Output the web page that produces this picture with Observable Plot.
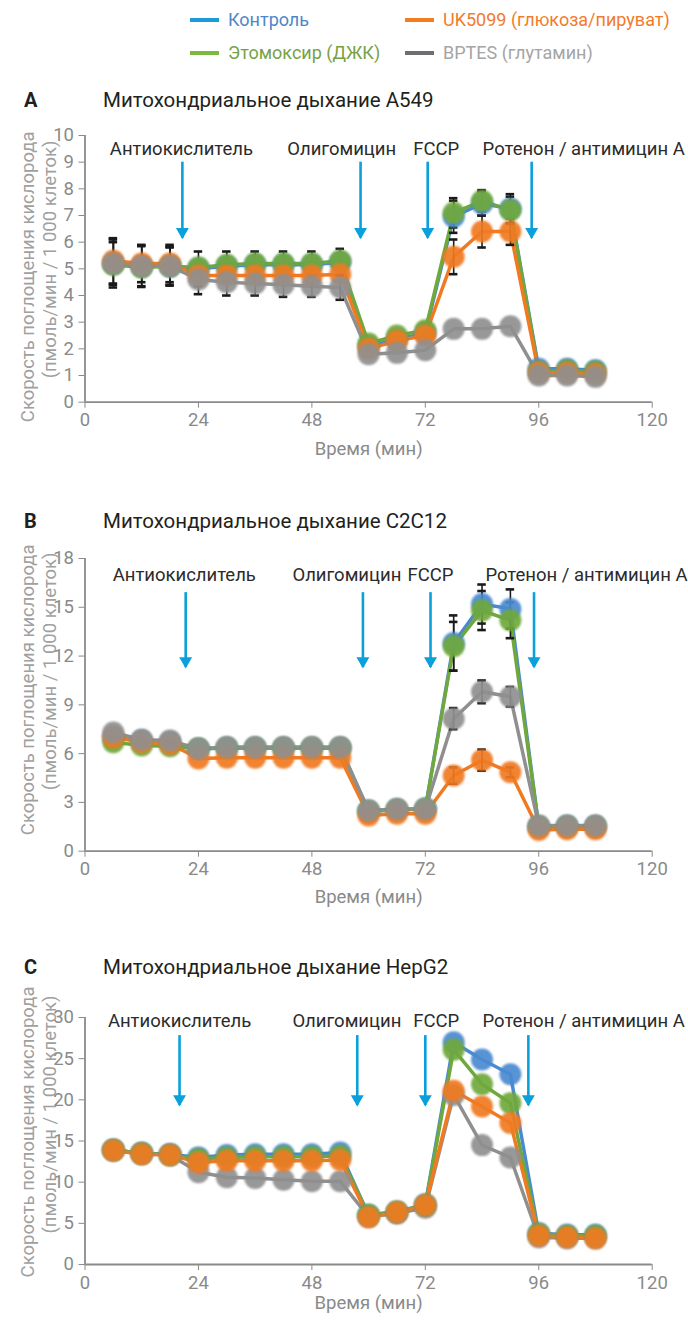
<!DOCTYPE html>
<html><head><meta charset="utf-8">
<script src="https://cdn.jsdelivr.net/npm/d3@7"></script>
<script src="https://cdn.jsdelivr.net/npm/@observablehq/plot@0.6"></script>
<style>
body{margin:0;background:#fff;font-family:Roboto,sans-serif;}
#root{position:relative;width:688px;height:1321px;overflow:hidden;background:#fff;}
.abs{position:absolute;white-space:nowrap;line-height:1;}
</style></head><body><div id="root"></div>
<script>
// ---------- shared data ----------
const times = [6,12,18,24,30,36,42,48,54,60,66,72,78,84,90,96,102,108];
const xTicks = [0,24,48,72,96,120];
const seriesNames = ["Контроль","Этомоксир (ДЖК)","UK5099 (глюкоза/пируват)","BPTES (глутамин)"];
const seriesColors = ["#4a8ad0","#6fa83c","#f07a22","#8f8f8f"];
const legendLineColors = ["#1b9cd9","#7bb940","#f47c21","#6d6f72"];
const legendTextColors = ["#4f87c7","#76a246","#f27c2c","#a5a5a5"];
const injectionNames = ["Антиокислитель","Олигомицин","FCCP","Ротенон / антимицин A"];
const yLabelLines = ["Скорость поглощения кислорода","(пмоль/мин / 1 000 клеток)"];
const xLabel = "Время (мин)";
const panelLetters = ["A","B","C"];
const panelTitles = ["Митохондриальное дыхание A549","Митохондриальное дыхание C2C12","Митохондриальное дыхание HepG2"];

// ---------- A549 ----------
const a549Ctrl  = [5.2,5.1,5.1,5.0,5.1,5.15,5.15,5.15,5.25,2.1,2.35,2.6,6.95,7.45,7.25,1.25,1.25,1.2];
const a549Eto   = [5.15,5.05,5.1,5.05,5.15,5.2,5.2,5.2,5.3,2.2,2.5,2.7,7.1,7.55,7.2,1.15,1.2,1.15];
const a549Uk    = [5.3,5.2,5.2,4.75,4.75,4.75,4.75,4.75,4.8,2.0,2.3,2.5,5.45,6.4,6.4,1.1,1.1,1.05];
const a549Bptes = [5.2,5.1,5.1,4.6,4.5,4.45,4.4,4.35,4.3,1.8,1.85,1.95,2.75,2.75,2.85,1.0,1.0,0.95];
const a549CtrlErr  = [0.9,0.78,0.73,0.65,0.55,0.5,0.5,0.5,0.5,0,0,0,0.6,0.45,0.55,0,0,0];
const a549EtoErr   = [0,0,0,0,0,0,0,0,0,0,0,0,0.55,0.4,0.5,0,0,0];
const a549UkErr    = [0.85,0.7,0.7,0,0,0,0,0,0,0,0,0,0.65,0.6,0.5,0,0,0];
const a549BptesErr = [0.8,0.75,0.7,0.55,0.5,0.45,0.45,0.4,0.46,0,0,0,0,0,0,0,0,0];
const a549YTicks = [0,1,2,3,4,5,6,7,8,9,10];
const a549ArrowTimes = [20.6,58.3,72.5,94.5];
const a549LabelTimes = [20.4,54.3,74.3,105.5];

// ---------- C2C12 ----------
const c2c12Ctrl  = [7.0,6.8,6.7,6.3,6.35,6.35,6.35,6.35,6.35,2.45,2.55,2.6,12.8,15.2,14.9,1.5,1.55,1.55];
const c2c12Eto   = [6.7,6.5,6.45,6.3,6.35,6.35,6.35,6.35,6.35,2.45,2.55,2.6,12.6,14.8,14.2,1.5,1.5,1.5];
const c2c12Uk    = [7.0,6.7,6.6,5.7,5.75,5.75,5.75,5.75,5.75,2.2,2.3,2.3,4.65,5.6,4.85,1.3,1.35,1.35];
const c2c12Bptes = [7.3,6.85,6.8,6.3,6.4,6.4,6.4,6.4,6.4,2.5,2.6,2.6,8.15,9.8,9.5,1.58,1.58,1.58];
const c2c12CtrlErr  = [0,0,0,0,0,0,0,0,0,0,0,0,1.7,1.2,1.2,0,0,0];
const c2c12EtoErr   = [0,0,0,0,0,0,0,0,0,0,0,0,1.5,1.2,1.1,0,0,0];
const c2c12UkErr    = [0,0,0,0,0,0,0,0,0,0,0,0,0.5,0.65,0.3,0,0,0];
const c2c12BptesErr = [0,0,0,0,0,0,0,0,0,0,0,0,0.65,0.7,0.6,0,0,0];
const c2c12YTicks = [0,3,6,9,12,15,18];
const c2c12ArrowTimes = [21.3,58.8,73.1,95.0];
const c2c12LabelTimes = [21.0,55.4,73.1,106.1];

// ---------- HepG2 ----------
const hepg2Ctrl  = [13.9,13.5,13.4,13.0,13.3,13.4,13.4,13.4,13.6,6.0,6.4,7.3,27.0,24.9,23.1,3.8,3.6,3.6];
const hepg2Eto   = [13.9,13.5,13.3,12.8,13.0,13.1,13.1,13.1,13.2,6.0,6.4,7.2,26.1,21.9,19.6,3.7,3.5,3.5];
const hepg2Uk    = [13.85,13.4,13.3,12.4,12.6,12.6,12.6,12.6,12.7,5.75,6.35,7.2,21.1,19.2,17.2,3.5,3.3,3.2];
const hepg2Bptes = [13.9,13.5,13.3,11.2,10.6,10.5,10.3,10.1,10.1,5.8,6.2,6.9,20.6,14.5,13.0,3.3,3.2,3.2];
const hepg2CtrlErr  = [0,0,0,0,0,0,0,0,0,0,0,0,0,0,0,0,0,0];
const hepg2EtoErr   = [0,0,0,0,0,0,0,0,0,0,0,0,0,0,0,0,0,0];
const hepg2UkErr    = [0,0,0,0,0,0,0,0,0,0,0,0,0,0,0,0,0,0];
const hepg2BptesErr = [0,0,0,0,0,0,0,0,0,0,0,0,0,0,0,0,0,0];
const hepg2YTicks = [0,5,10,15,20,25,30];
const hepg2ArrowTimes = [20.0,57.6,72.0,93.8];
const hepg2LabelTimes = [20.0,55.4,74.3,105.5];

// ---------- layout / style ----------
const AXIS = "#8a8a8a";
const ARROW = "#0aa0dc";
const FS = 18.5;
const root = document.getElementById("root");
function addText(txt, left, top, size, color, weight) {
  const d = document.createElement("div");
  d.className = "abs";
  d.textContent = txt;
  Object.assign(d.style, {left: left+"px", top: top+"px", fontSize: size+"px", color, fontWeight: weight||400});
  root.appendChild(d);
  return d;
}
function addLine(left, top, w, color) {
  const d = document.createElement("div");
  d.className = "abs";
  Object.assign(d.style, {left: left+"px", top: top+"px", width: w+"px", height: "4px", background: color});
  root.appendChild(d);
}
// legend
const legendPos = [[190,20],[190,53],[405,20],[405,53]];
[0,1,2,3].forEach(k => {
  const [lx, ly] = legendPos[k];
  addLine(lx, ly-2, 29, legendLineColors[k]);
  addText(seriesNames[k], lx+38, ly-9.5, 18, legendTextColors[k]);
});

function makePanel(cfg) {
  const values = cfg.values, errs = cfg.errs;
  const series = cfg.order.map(k => ({k, name: seriesNames[k], color: seriesColors[k],
    rows: values[k].map((v,i) => ({t: times[i], v, e: errs[k][i]}))}));
  const errRows = series.flatMap(s => s.rows.filter(r => r.e > 0));
  const labels = injectionNames.map((n,i) => ({t: cfg.labelTimes[i], text: n}));
  const marks = [
    Plot.ruleY([0], {stroke: AXIS, strokeWidth: 1.8}),
    Plot.ruleX([0], {y1: 0, y2: cfg.yMax, stroke: AXIS, strokeWidth: 1.8}),
    Plot.text(labels, {x: "t", y: cfg.labelY, text: "text", fill: "#2b2b2b", fontSize: FS}),
    Plot.ruleX(cfg.arrowTimes, {x: d => d, y1: cfg.arrowTop, y2: cfg.arrowTip, stroke: ARROW, strokeWidth: 2.6}),
    Plot.dot(cfg.arrowTimes, {x: d => d, y: cfg.arrowTip, symbol: "triangle", rotate: 180, r: 4.8, fill: ARROW, stroke: "none", dy: -6.5}),
    ...series.map(s => Plot.line(s.rows, {x: "t", y: "v", stroke: s.color, strokeWidth: 3.5})),
    Plot.ruleX(errRows, {x: "t", y1: d => d.v - d.e, y2: d => d.v + d.e, stroke: "#1a1a1a", strokeWidth: 1.6}),
    Plot.ruleY(errRows, {y: d => d.v + d.e, x1: d => d.t - 0.9, x2: d => d.t + 0.9, stroke: "#1a1a1a", strokeWidth: 2.6}),
    Plot.ruleY(errRows, {y: d => d.v - d.e, x1: d => d.t - 0.9, x2: d => d.t + 0.9, stroke: "#1a1a1a", strokeWidth: 2.6}),
    ...series.map(s => Plot.dot(s.rows, {x: "t", y: "v", r: 11, fill: s.color, fillOpacity: 0.92, stroke: "none"})),
    Plot.text([yLabelLines[0]], {frameAnchor: "top-left", text: d => d, rotate: -90, textAnchor: "end", fill: "#a0a0a0", fontSize: FS, dx: -64, dy: cfg.ylabDy[0]}),
    Plot.text([yLabelLines[1]], {frameAnchor: "top-left", text: d => d, rotate: -90, textAnchor: "end", fill: "#a0a0a0", fontSize: FS, dx: -42, dy: cfg.ylabDy[1]}),
    Plot.text([xLabel], {frameAnchor: "bottom", text: d => d, fill: "#8a8a8a", fontSize: FS, dy: cfg.xlabDy})
  ];
  const svg = Plot.plot({
    width: 688, height: 20 + cfg.innerH + 70,
    marginLeft: 84.5, marginRight: 36.3, marginTop: 20, marginBottom: 70,
    style: {fontFamily: "Roboto, sans-serif", fontSize: FS + "px", color: AXIS, background: "transparent", overflow: "visible"},
    x: {domain: [0,120], ticks: xTicks, tickSize: 6, tickPadding: 5, label: null},
    y: {domain: [0, cfg.yMax], ticks: cfg.yTicks, tickSize: 6, tickPadding: 5, label: null},
    marks
  });
  d3.select(svg).selectAll("circle").style("filter", "blur(0.8px)");
  svg.style.position = "absolute";
  svg.style.left = "0px";
  svg.style.top = (cfg.top - 20) + "px";
  root.appendChild(svg);
}

const panels = [
  {top: 135, innerH: 266.7, yMax: 10, yTicks: a549YTicks,
   values: [a549Ctrl,a549Eto,a549Uk,a549Bptes], errs: [a549CtrlErr,a549EtoErr,a549UkErr,a549BptesErr],
   order: [0,1,2,3], arrowTimes: a549ArrowTimes, labelTimes: a549LabelTimes,
   labelY: 9.5, arrowTop: 9.0, arrowTip: 6.15, ylabDy: [-4, 5], xlabDy: 53, titleY: 101},
  {top: 558, innerH: 292.7, yMax: 18, yTicks: c2c12YTicks,
   values: [c2c12Ctrl,c2c12Eto,c2c12Uk,c2c12Bptes], errs: [c2c12CtrlErr,c2c12EtoErr,c2c12UkErr,c2c12BptesErr],
   order: [0,1,2,3], arrowTimes: c2c12ArrowTimes, labelTimes: c2c12LabelTimes,
   labelY: 16.95, arrowTop: 15.9, arrowTip: 11.3, ylabDy: [-14, -6], xlabDy: 52, titleY: 522},
  {top: 1017, innerH: 247, yMax: 30, yTicks: hepg2YTicks,
   values: [hepg2Ctrl,hepg2Eto,hepg2Uk,hepg2Bptes], errs: [hepg2CtrlErr,hepg2EtoErr,hepg2UkErr,hepg2BptesErr],
   order: [3,0,1,2], arrowTimes: hepg2ArrowTimes, labelTimes: hepg2LabelTimes,
   labelY: 29.6, arrowTop: 27.8, arrowTip: 19.3, ylabDy: [-31, -22], xlabDy: 44, titleY: 968}
];
panels.forEach((p, i) => {
  makePanel(p);
  addText(panelLetters[i], 24, p.titleY - 11, 20, "#231f20", 700);
  addText(panelTitles[i], 103, p.titleY - 11, 20.5, "#231f20", 400);
});
</script></body></html>
